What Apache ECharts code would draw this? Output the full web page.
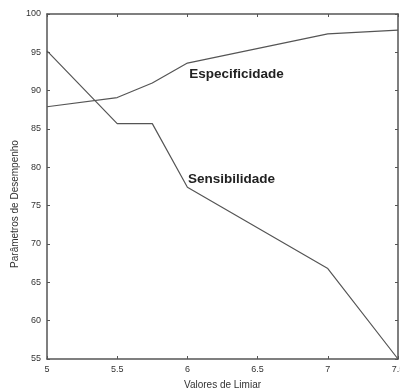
<!DOCTYPE html>
<html>
<head>
<meta charset="utf-8">
<script src="https://cdn.jsdelivr.net/npm/echarts@6/dist/echarts.min.js"></script>
<style>
  html, body { margin: 0; padding: 0; background: #fff; }
  #chart { width: 400px; height: 392px; }
</style>
</head>
<body>
<div id="chart"></div>
<script>
// limiares (eixo x) e parâmetros de desempenho
var limiares = [5, 5.5, 5.75, 6, 7, 7.5]
var especificidade = [87.9, 89.1, 91.0, 93.6, 97.4, 97.9]
var sensibilidade = [95.2, 85.7, 85.7, 77.4, 66.8, 55]

var chartDom = document.getElementById('chart')
var chart = echarts.init(chartDom)

var corLinha = '#555'
var corTexto = '#333'
var fonte = '"Liberation Sans", Arial, sans-serif'

function pares(xs, ys) {
  return xs.map(function (x, i) { return [x, ys[i]] })
}

// rótulo em negrito colocado junto da curva
function rotulo(texto, coord) {
  return {
    symbol: 'circle',
    symbolSize: 1,
    itemStyle: { color: 'rgba(0,0,0,0)' },
    label: {
      show: true,
      position: 'right',
      distance: 0,
      formatter: texto,
      color: '#222',
      fontFamily: fonte,
      fontWeight: 'bold',
      fontSize: 13.5
    },
    data: [{ coord: coord }]
  }
}

// eixo "caixa" com marcas para dentro
function eixoX(pos, mostraRotulo) {
  return {
    type: 'value',
    position: pos,
    min: 5,
    max: 7.5,
    interval: 0.5,
    axisLine: { show: true, onZero: false, lineStyle: { color: corLinha, width: 1.5 } },
    axisTick: { show: true, inside: true, length: 3, lineStyle: { color: corLinha } },
    axisLabel: { show: mostraRotulo, color: corTexto, fontSize: 9, fontFamily: fonte, margin: 6 },
    splitLine: { show: false }
  }
}

function eixoY(pos, mostraRotulo) {
  return {
    type: 'value',
    position: pos,
    min: 55,
    max: 100,
    interval: 5,
    axisLine: { show: true, onZero: false, lineStyle: { color: corLinha, width: 1.5 } },
    axisTick: { show: true, inside: true, length: 3, lineStyle: { color: corLinha } },
    axisLabel: { show: mostraRotulo, color: corTexto, fontSize: 9, fontFamily: fonte, margin: 6 },
    splitLine: { show: false }
  }
}

var xBaixo = eixoX('bottom', true)
xBaixo.name = 'Valores de Limiar'
xBaixo.nameLocation = 'middle'
xBaixo.nameGap = 21
xBaixo.nameTextStyle = { color: corTexto, fontSize: 10, fontFamily: fonte }

var option = {
  backgroundColor: '#fff',
  animation: false,
  grid: { left: 47, right: 2, top: 14, bottom: 33, outerBoundsMode: 'none', containLabel: false },
  xAxis: [xBaixo, eixoX('top', false)],
  yAxis: [eixoY('left', true), eixoY('right', false)],
  graphic: [{
    type: 'text',
    x: 15,
    y: 204,
    rotation: Math.PI / 2,
    style: {
      text: 'Parâmetros de Desempenho',
      fill: corTexto,
      fontSize: 10,
      fontFamily: fonte,
      align: 'center',
      verticalAlign: 'middle'
    }
  }],
  series: [
    {
      name: 'Especificidade',
      type: 'line',
      showSymbol: false,
      lineStyle: { color: corLinha, width: 1.2 },
      data: pares(limiares, especificidade),
      markPoint: rotulo('Especificidade', [6.01, 92.1])
    },
    {
      name: 'Sensibilidade',
      type: 'line',
      showSymbol: false,
      lineStyle: { color: corLinha, width: 1.2 },
      data: pares(limiares, sensibilidade),
      markPoint: rotulo('Sensibilidade', [6.0, 78.4])
    }
  ]
}

chart.setOption(option)
</script>
</body>
</html>
